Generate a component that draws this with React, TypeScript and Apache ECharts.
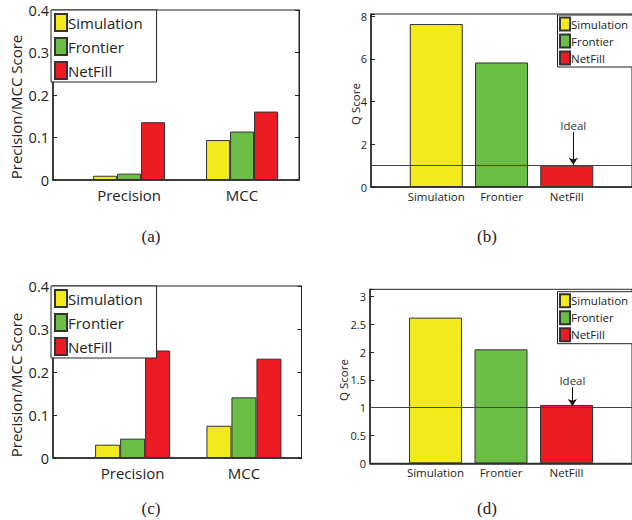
import React, { useEffect, useRef } from 'react';
import * as echarts from 'echarts';

// ---- data ----
const metricCategories = ['Precision', 'MCC'];
const methodNames = ['Simulation', 'Frontier', 'NetFill'];
const methodColors = ['#F2EA1B', '#6BBD45', '#ED1C24'];

// panel (a): precision / MCC
const scoresA_Simulation = [0.010, 0.094];
const scoresA_Frontier = [0.015, 0.114];
const scoresA_NetFill = [0.136, 0.161];
// panel (c): precision / MCC
const scoresC_Simulation = [0.031, 0.075];
const scoresC_Frontier = [0.045, 0.141];
const scoresC_NetFill = [0.250, 0.231];
// panels (b), (d): Q score per method
const qScoresB = [7.63, 5.83, 1.0];
const qScoresD = [2.62, 2.05, 1.05];
const idealQ = 1;
// "Ideal" arrow (data space: x, y-start, y-end)
const idealArrowB = [3.1, 2.57, 1.04];
const idealArrowD = [3.09, 1.37, 1.03];

const captions = ['(a)', '(b)', '(c)', '(d)'];

const FONT = '"Open Sans", sans-serif';
const INK = '#222';
const BORDER = '#333';

function isMultiple(v: number, step: number) {
  const r = v / step;
  return Math.abs(r - Math.round(r)) < 1e-6;
}

export default function App() {
  const ref = useRef<HTMLDivElement>(null);

  useEffect(() => {
    if (!ref.current) return;
    const chart = echarts.init(ref.current, undefined, { renderer: 'svg' });

    const grids = [
      { left: 53, top: 10, width: 246, height: 170 },
      { left: 371, top: 14, width: 264, height: 173 },
      { left: 53, top: 286, width: 248.5, height: 172 },
      { left: 370, top: 289.3, width: 266, height: 174 },
    ].map((g) => ({ ...g, show: true, borderColor: INK, borderWidth: 1, backgroundColor: 'transparent' }));

    const xExtents = [
      [0.327, 2.504],
      [0, 4],
      [0.285, 2.517],
      [0, 4],
    ];
    const xLabelSets = [metricCategories, methodNames, metricCategories, methodNames];
    const xFont = [15, 11.5, 15, 11.5];
    const xMargin = [7, 3, 7, 3];

    const xAxis: any[] = grids.map((_, i) => ({
      type: 'value',
      gridIndex: i,
      min: xExtents[i][0],
      max: xExtents[i][1],
      axisLine: { show: true, lineStyle: { color: INK, width: 1.5 } },
      axisTick: { show: false },
      splitLine: { show: false },
      axisLabel: {
        customValues: xLabelSets[i].map((_, k) => k + 1),
        formatter: (v: number) => xLabelSets[i][Math.round(v) - 1] ?? '',
        fontFamily: FONT,
        fontSize: xFont[i],
        color: INK,
        margin: xMargin[i],
      },
    }));

    const yMax = [0.4, 8.1, 0.4, 3.13];
    const yStep = [0.1, 2, 0.1, 0.5];
    const yFont = [14.5, 11, 14.5, 11];
    const yAxis: any[] = [];
    grids.forEach((_, i) => {
      yAxis.push({
        type: 'value',
        gridIndex: i,
        min: 0,
        max: yMax[i],
        interval: yStep[i],
        axisLine: { show: true, lineStyle: { color: INK, width: 1.5 } },
        axisTick: { show: true, inside: true, length: 4, lineStyle: { color: INK } },
        splitLine: { show: false },
        axisLabel: {
          fontFamily: FONT,
          fontSize: yFont[i],
          color: INK,
          margin: 4,
          formatter: (v: number) => (isMultiple(v, yStep[i]) ? String(+v.toFixed(2)) : ''),
        },
      });
    });
    // right-side tick marks for panels (a) and (c)
    [0, 2].forEach((i) => {
      yAxis.push({
        type: 'value',
        gridIndex: i,
        position: 'right',
        min: 0,
        max: yMax[i],
        interval: yStep[i],
        axisLine: { show: true, lineStyle: { color: INK, width: 1 } },
        axisTick: { show: true, inside: true, length: 4, lineStyle: { color: INK } },
        axisLabel: { show: false },
        splitLine: { show: false },
      });
    });

    const series: any[] = [];
    const groupedSets = [
      { grid: 0, arrays: [scoresA_Simulation, scoresA_Frontier, scoresA_NetFill], bw: 24 },
      { grid: 2, arrays: [scoresC_Simulation, scoresC_Frontier, scoresC_NetFill], bw: 25 },
    ];
    groupedSets.forEach((set) => {
      set.arrays.forEach((arr, m) => {
        series.push({
          type: 'bar',
          name: methodNames[m],
          xAxisIndex: set.grid,
          yAxisIndex: set.grid,
          barWidth: set.bw,
          barGap: '0%',
          data: arr.map((v, k) => [k + 1, v]),
          itemStyle: { color: methodColors[m], borderColor: BORDER, borderWidth: 1 },
        });
      });
    });

    const qSets = [
      { grid: 1, values: qScoresB, arrow: idealArrowB },
      { grid: 3, values: qScoresD, arrow: idealArrowD },
    ];
    qSets.forEach((set) => {
      set.values.forEach((v, m) => {
        const s: any = {
          type: 'bar',
          name: methodNames[m],
          xAxisIndex: set.grid,
          yAxisIndex: set.grid,
          barWidth: 53,
          barGap: '-100%',
          data: [[m + 1, v]],
          itemStyle: { color: methodColors[m], borderColor: BORDER, borderWidth: 1 },
        };
        if (m === set.values.length - 1) {
          s.markLine = {
            silent: true,
            symbolSize: 7,
            label: { show: false },
            lineStyle: { color: '#444', width: 1, type: 'solid' },
            emphasis: { disabled: true },
            data: [
              [
                { coord: [0, idealQ], symbol: 'none' },
                { coord: [4, idealQ], symbol: 'none' },
              ],
              [
                {
                  coord: [set.arrow[0], set.arrow[1]],
                  symbol: 'none',
                  label: {
                    show: true,
                    formatter: 'Ideal',
                    position: 'start',
                    distance: 1,
                    fontFamily: FONT,
                    fontSize: 11.5,
                    color: '#333',
                  },
                  lineStyle: { color: '#111', width: 1 },
                },
                { coord: [set.arrow[0], set.arrow[2]], symbol: 'arrow' },
              ],
            ],
          };
        }
        series.push(s);
      });
    });

    const legendBase = {
      orient: 'vertical',
      data: methodNames,
      icon: 'rect',
      borderColor: INK,
      borderWidth: 1,
      backgroundColor: '#fff',
      selectedMode: false,
      z: 10,
    };
    const bigLegend = (top: number) => ({
      ...legendBase,
      left: 51,
      top,
      itemWidth: 12,
      itemHeight: 17,
      itemGap: 5,
      padding: [3, 14, 2, 3],
      textStyle: { fontFamily: FONT, fontSize: 15, lineHeight: 17, color: INK, padding: [0, 0, 0, -4] },
    });
    const smallLegend = (top: number) => ({
      ...legendBase,
      left: 557.5,
      top,
      itemWidth: 10,
      itemHeight: 13,
      itemGap: 2,
      padding: [1.5, 40, 1.5, 1.5],
      textStyle: { fontFamily: FONT, fontSize: 11.5, lineHeight: 13, color: INK, padding: [0, 0, 0, -4] },
    });

    const captionPos = [
      [151, 236],
      [487, 236],
      [151, 508],
      [487, 508],
    ];
    const yNames = [
      { text: 'Precision/MCC Score', x: 16, y: 107, size: 15 },
      { text: 'Q Score', x: 355.5, y: 104, size: 11.5 },
      { text: 'Precision/MCC Score', x: 16, y: 385, size: 15 },
      { text: 'Q Score', x: 343.5, y: 380, size: 11.5 },
    ];

    const graphic: any[] = [
      ...captions.map((c, i) => ({
        type: 'text',
        x: captionPos[i][0],
        y: captionPos[i][1],
        style: {
          text: c,
          fill: INK,
          font: '17px "Liberation Serif", serif',
          align: 'center',
          verticalAlign: 'middle',
        },
      })),
      ...yNames.map((n) => ({
        type: 'text',
        x: n.x,
        y: n.y,
        rotation: Math.PI / 2,
        style: {
          text: n.text,
          fill: INK,
          font: `${n.size}px "Open Sans", sans-serif`,
          align: 'center',
          verticalAlign: 'middle',
        },
      })),
    ];

    chart.setOption({
      animation: false,
      backgroundColor: '#fff',
      grid: grids,
      xAxis,
      yAxis,
      legend: [bigLegend(10), smallLegend(15), bigLegend(286), smallLegend(291.7)],
      series,
      graphic,
    });

    return () => chart.dispose();
  }, []);

  return (
    <div
      ref={ref}
      style={{ position: 'absolute', left: 0, top: 0, width: 632, height: 520 }}
    />
  );
}
